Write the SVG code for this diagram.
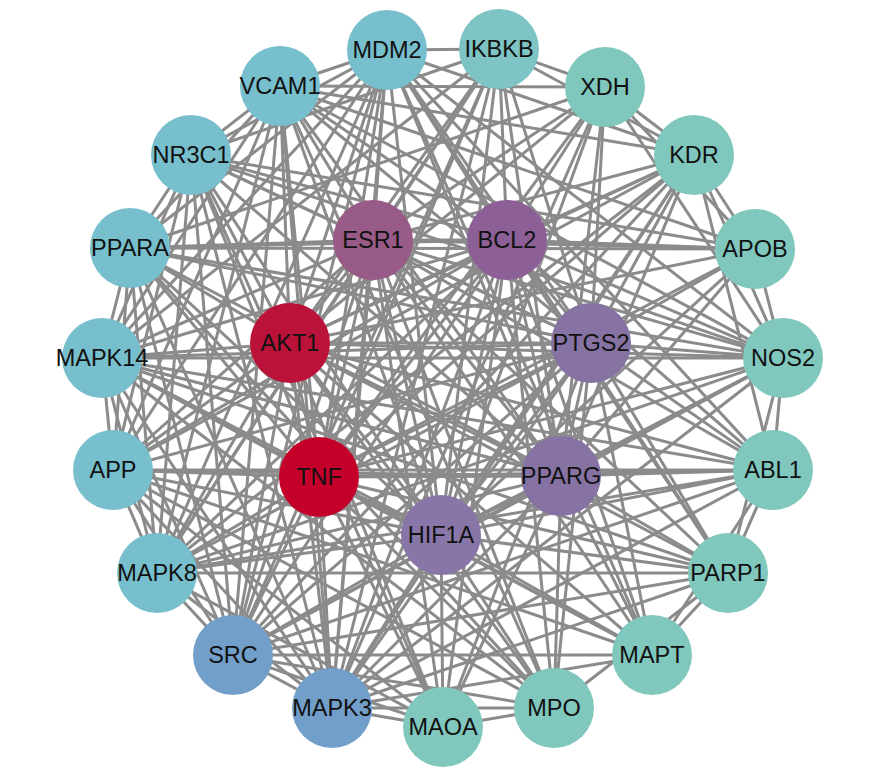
<svg xmlns="http://www.w3.org/2000/svg" width="886" height="781" viewBox="0 0 886 781">
<style>
.e path{stroke:#8b8b8b;stroke-width:3;fill:none}
.n circle{stroke:none}
.n text{font-family:"Liberation Sans",Arial,sans-serif;font-size:23.5px;fill:#111;text-anchor:middle;dominant-baseline:central}
.cy{fill:#78bfcd}
.tl{fill:#80c7bd}
.tl2{fill:#7fc4c4}
.bl{fill:#729fc9}
.esr{fill:#985a86}
.bcl{fill:#8c6097}
.akt{fill:#ba1239}
.tnf{fill:#c4002a}
.pt{fill:#8673a3}
.hif{fill:#8976a8}
</style>
<rect width="886" height="781" fill="#fff"/>
<g id="edges" class="e">
<path d="M290 343L319 477"/><path d="M290 343L373 240"/><path d="M290 343L507 240"/><path d="M290 343L591 343"/><path d="M290 343L561 476"/><path d="M290 343L441 535"/>
<path d="M319 477L373 240"/><path d="M319 477L507 240"/><path d="M319 477L591 343"/><path d="M319 477L561 476"/><path d="M319 477L441 535"/>
<path d="M373 240L507 240"/><path d="M373 240L591 343"/><path d="M373 240L561 476"/><path d="M373 240L441 535"/>
<path d="M507 240L591 343"/><path d="M507 240L561 476"/><path d="M507 240L441 535"/>
<path d="M591 343L561 476"/><path d="M591 343L441 535"/><path d="M561 476L441 535"/>
<path d="M290 343L387 50"/><path d="M290 343L499 49"/><path d="M290 343L605 87"/><path d="M290 343L694 155"/><path d="M290 343L755 249"/><path d="M290 343L783 358"/><path d="M290 343L773 470"/><path d="M290 343L728 573"/><path d="M290 343L652 655"/><path d="M290 343L554 708"/><path d="M290 343L443 727"/><path d="M290 343L332 708"/><path d="M290 343L233 655"/><path d="M290 343L157 573"/><path d="M290 343L113 470"/><path d="M290 343L102 358"/><path d="M290 343L130 248"/><path d="M290 343L191 155"/><path d="M290 343L280 86"/>
<path d="M319 477L387 50"/><path d="M319 477L499 49"/><path d="M319 477L605 87"/><path d="M319 477L694 155"/><path d="M319 477L755 249"/><path d="M319 477L783 358"/><path d="M319 477L773 470"/><path d="M319 477L728 573"/><path d="M319 477L652 655"/><path d="M319 477L554 708"/><path d="M319 477L443 727"/><path d="M319 477L332 708"/><path d="M319 477L233 655"/><path d="M319 477L157 573"/><path d="M319 477L113 470"/><path d="M319 477L102 358"/><path d="M319 477L130 248"/><path d="M319 477L191 155"/><path d="M319 477L280 86"/>
<path d="M373 240L387 50"/><path d="M373 240L499 49"/><path d="M373 240L605 87"/><path d="M373 240L694 155"/><path d="M373 240L755 249"/><path d="M373 240L783 358"/><path d="M373 240L773 470"/><path d="M373 240L728 573"/><path d="M373 240L652 655"/><path d="M373 240L554 708"/><path d="M373 240L443 727"/><path d="M373 240L332 708"/><path d="M373 240L233 655"/><path d="M373 240L157 573"/><path d="M373 240L113 470"/><path d="M373 240L102 358"/><path d="M373 240L130 248"/><path d="M373 240L191 155"/><path d="M373 240L280 86"/>
<path d="M507 240L387 50"/><path d="M507 240L499 49"/><path d="M507 240L605 87"/><path d="M507 240L694 155"/><path d="M507 240L755 249"/><path d="M507 240L783 358"/><path d="M507 240L773 470"/><path d="M507 240L728 573"/><path d="M507 240L652 655"/><path d="M507 240L554 708"/><path d="M507 240L443 727"/><path d="M507 240L332 708"/><path d="M507 240L233 655"/><path d="M507 240L157 573"/><path d="M507 240L113 470"/><path d="M507 240L102 358"/><path d="M507 240L130 248"/><path d="M507 240L191 155"/><path d="M507 240L280 86"/>
<path d="M591 343L387 50"/><path d="M591 343L499 49"/><path d="M591 343L605 87"/><path d="M591 343L694 155"/><path d="M591 343L755 249"/><path d="M591 343L783 358"/><path d="M591 343L773 470"/><path d="M591 343L728 573"/><path d="M591 343L652 655"/><path d="M591 343L554 708"/><path d="M591 343L443 727"/><path d="M591 343L332 708"/><path d="M591 343L233 655"/><path d="M591 343L157 573"/><path d="M591 343L113 470"/><path d="M591 343L102 358"/><path d="M591 343L130 248"/><path d="M591 343L191 155"/><path d="M591 343L280 86"/>
<path d="M561 476L387 50"/><path d="M561 476L499 49"/><path d="M561 476L605 87"/><path d="M561 476L694 155"/><path d="M561 476L755 249"/><path d="M561 476L783 358"/><path d="M561 476L773 470"/><path d="M561 476L728 573"/><path d="M561 476L652 655"/><path d="M561 476L554 708"/><path d="M561 476L443 727"/><path d="M561 476L332 708"/><path d="M561 476L233 655"/><path d="M561 476L157 573"/><path d="M561 476L113 470"/><path d="M561 476L102 358"/><path d="M561 476L130 248"/><path d="M561 476L191 155"/><path d="M561 476L280 86"/>
<path d="M441 535L387 50"/><path d="M441 535L499 49"/><path d="M441 535L605 87"/><path d="M441 535L694 155"/><path d="M441 535L755 249"/><path d="M441 535L783 358"/><path d="M441 535L773 470"/><path d="M441 535L728 573"/><path d="M441 535L652 655"/><path d="M441 535L554 708"/><path d="M441 535L443 727"/><path d="M441 535L332 708"/><path d="M441 535L233 655"/><path d="M441 535L157 573"/><path d="M441 535L113 470"/><path d="M441 535L102 358"/><path d="M441 535L130 248"/><path d="M441 535L191 155"/><path d="M441 535L280 86"/>
<path d="M387 50L499 49"/><path d="M387 50L280 86"/><path d="M387 50L191 155"/><path d="M387 50L130 248"/><path d="M387 50L102 358"/><path d="M387 50L113 470"/><path d="M387 50L157 573"/><path d="M387 50L233 655"/><path d="M387 50L332 708"/><path d="M387 50L652 655"/><path d="M387 50L728 573"/><path d="M387 50L773 470"/><path d="M387 50L694 155"/><path d="M387 50L783 358"/>
<path d="M280 86L605 87"/><path d="M280 86L191 155"/><path d="M280 86L130 248"/><path d="M280 86L102 358"/><path d="M280 86L113 470"/><path d="M280 86L157 573"/><path d="M280 86L233 655"/><path d="M280 86L332 708"/><path d="M280 86L694 155"/><path d="M280 86L783 358"/><path d="M280 86L554 708"/><path d="M280 86L755 249"/>
<path d="M191 155L130 248"/><path d="M191 155L102 358"/><path d="M191 155L113 470"/><path d="M191 155L157 573"/><path d="M191 155L233 655"/><path d="M191 155L332 708"/><path d="M191 155L755 249"/><path d="M191 155L783 358"/><path d="M191 155L443 727"/><path d="M191 155L499 49"/>
<path d="M130 248L102 358"/><path d="M130 248L113 470"/><path d="M130 248L157 573"/><path d="M130 248L233 655"/><path d="M130 248L332 708"/><path d="M130 248L755 249"/><path d="M130 248L783 358"/><path d="M130 248L554 708"/><path d="M130 248L605 87"/>
<path d="M102 358L113 470"/><path d="M102 358L157 573"/><path d="M102 358L233 655"/><path d="M102 358L332 708"/><path d="M102 358L783 358"/><path d="M102 358L728 573"/><path d="M102 358L652 655"/><path d="M102 358L499 49"/><path d="M102 358L773 470"/><path d="M102 358L554 708"/>
<path d="M113 470L157 573"/><path d="M113 470L233 655"/><path d="M113 470L332 708"/><path d="M113 470L652 655"/><path d="M113 470L773 470"/><path d="M113 470L443 727"/><path d="M113 470L554 708"/><path d="M113 470L694 155"/>
<path d="M157 573L233 655"/><path d="M157 573L332 708"/><path d="M157 573L728 573"/><path d="M157 573L499 49"/><path d="M157 573L773 470"/><path d="M157 573L783 358"/><path d="M157 573L443 727"/><path d="M157 573L694 155"/>
<path d="M233 655L332 708"/><path d="M233 655L694 155"/><path d="M233 655L773 470"/><path d="M233 655L728 573"/><path d="M233 655L652 655"/><path d="M233 655L783 358"/><path d="M233 655L499 49"/><path d="M233 655L554 708"/><path d="M233 655L443 727"/>
<path d="M332 708L443 727"/><path d="M332 708L554 708"/><path d="M332 708L728 573"/><path d="M332 708L652 655"/><path d="M332 708L773 470"/><path d="M332 708L783 358"/><path d="M332 708L694 155"/><path d="M332 708L499 49"/><path d="M332 708L605 87"/>
<path d="M499 49L605 87"/><path d="M605 87L694 155"/><path d="M694 155L755 249"/><path d="M694 155L783 358"/><path d="M755 249L783 358"/><path d="M783 358L773 470"/><path d="M773 470L728 573"/><path d="M728 573L652 655"/><path d="M554 708L443 727"/><path d="M605 87L783 358"/><path d="M728 573L783 358"/><path d="M773 470L652 655"/><path d="M554 708L728 573"/><path d="M694 155L773 470"/><path d="M605 87L755 249"/><path d="M499 49L694 155"/>
</g>
<g id="node-MDM2" class="n"><circle class="cy" cx="387" cy="50" r="40"/><text x="387" y="50">MDM2</text></g>
<g id="node-IKBKB" class="n"><circle class="tl2" cx="499" cy="49" r="40"/><text x="499" y="49">IKBKB</text></g>
<g id="node-XDH" class="n"><circle class="tl" cx="605" cy="87" r="40"/><text x="605" y="87">XDH</text></g>
<g id="node-KDR" class="n"><circle class="tl" cx="694" cy="155" r="40"/><text x="694" y="155">KDR</text></g>
<g id="node-APOB" class="n"><circle class="tl" cx="755" cy="249" r="40"/><text x="755" y="249">APOB</text></g>
<g id="node-NOS2" class="n"><circle class="tl" cx="783" cy="358" r="40"/><text x="783" y="358">NOS2</text></g>
<g id="node-ABL1" class="n"><circle class="tl" cx="773" cy="470" r="40"/><text x="773" y="470">ABL1</text></g>
<g id="node-PARP1" class="n"><circle class="tl" cx="728" cy="573" r="40"/><text x="728" y="573">PARP1</text></g>
<g id="node-MAPT" class="n"><circle class="tl" cx="652" cy="655" r="40"/><text x="652" y="655">MAPT</text></g>
<g id="node-MPO" class="n"><circle class="tl" cx="554" cy="708" r="40"/><text x="554" y="708">MPO</text></g>
<g id="node-MAOA" class="n"><circle class="tl" cx="443" cy="727" r="40"/><text x="443" y="727">MAOA</text></g>
<g id="node-MAPK3" class="n"><circle class="bl" cx="332" cy="708" r="40"/><text x="332" y="708">MAPK3</text></g>
<g id="node-SRC" class="n"><circle class="bl" cx="233" cy="655" r="40"/><text x="233" y="655">SRC</text></g>
<g id="node-MAPK8" class="n"><circle class="cy" cx="157" cy="573" r="40"/><text x="157" y="573">MAPK8</text></g>
<g id="node-APP" class="n"><circle class="cy" cx="113" cy="470" r="40"/><text x="113" y="470">APP</text></g>
<g id="node-MAPK14" class="n"><circle class="cy" cx="102" cy="358" r="40"/><text x="102" y="358">MAPK14</text></g>
<g id="node-PPARA" class="n"><circle class="cy" cx="130" cy="248" r="40"/><text x="130" y="248">PPARA</text></g>
<g id="node-NR3C1" class="n"><circle class="cy" cx="191" cy="155" r="40"/><text x="191" y="155">NR3C1</text></g>
<g id="node-VCAM1" class="n"><circle class="cy" cx="280" cy="86" r="40"/><text x="280" y="86">VCAM1</text></g>
<g id="node-ESR1" class="n"><circle class="esr" cx="373" cy="240" r="40"/><text x="373" y="240">ESR1</text></g>
<g id="node-BCL2" class="n"><circle class="bcl" cx="507" cy="240" r="40"/><text x="507" y="240">BCL2</text></g>
<g id="node-AKT1" class="n"><circle class="akt" cx="290" cy="343" r="40"/><text x="290" y="343">AKT1</text></g>
<g id="node-PTGS2" class="n"><circle class="pt" cx="591" cy="343" r="40"/><text x="591" y="343">PTGS2</text></g>
<g id="node-TNF" class="n"><circle class="tnf" cx="319" cy="477" r="40"/><text x="319" y="477">TNF</text></g>
<g id="node-PPARG" class="n"><circle class="pt" cx="561" cy="476" r="40"/><text x="561" y="476">PPARG</text></g>
<g id="node-HIF1A" class="n"><circle class="hif" cx="441" cy="535" r="40"/><text x="441" y="535">HIF1A</text></g>
</svg>
